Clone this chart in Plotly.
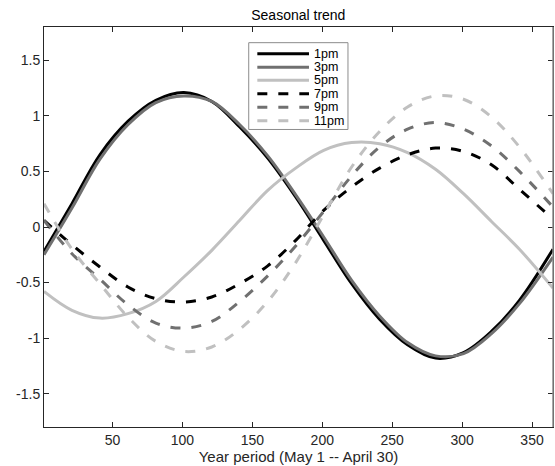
import plotly.graph_objects as go

# Day of the year period (May 1 -- April 30)
days = [1, 21, 41, 61, 81, 101, 121, 141, 161, 181, 201, 221, 241, 261, 281, 301, 321, 341, 365]

pm1 = [-0.22, 0.21, 0.65, 0.95, 1.14, 1.21, 1.13, 0.90, 0.62, 0.27, -0.12, -0.51, -0.83, -1.06, -1.18, -1.13, -0.94, -0.66, -0.20]
pm3 = [-0.25, 0.17, 0.61, 0.92, 1.12, 1.18, 1.13, 0.92, 0.64, 0.29, -0.09, -0.48, -0.80, -1.04, -1.16, -1.14, -0.96, -0.69, -0.27]
pm5 = [-0.58, -0.75, -0.82, -0.78, -0.67, -0.45, -0.21, 0.06, 0.33, 0.53, 0.69, 0.76, 0.75, 0.67, 0.52, 0.30, 0.05, -0.20, -0.55]
pm7 = [0.06, -0.16, -0.36, -0.54, -0.645, -0.675, -0.63, -0.51, -0.35, -0.12, 0.15, 0.36, 0.53, 0.65, 0.71, 0.68, 0.56, 0.34, 0.07]
pm9 = [0.06, -0.24, -0.47, -0.70, -0.865, -0.91, -0.85, -0.67, -0.44, -0.17, 0.14, 0.46, 0.72, 0.88, 0.94, 0.88, 0.73, 0.50, 0.18]
pm11 = [0.21, -0.20, -0.51, -0.81, -1.03, -1.12, -1.08, -0.92, -0.67, -0.32, 0.11, 0.54, 0.86, 1.08, 1.18, 1.15, 0.99, 0.72, 0.30]

names = ["1pm", "3pm", "5pm", "7pm", "9pm", "11pm"]
series = [pm1, pm3, pm5, pm7, pm9, pm11]
colors = ["#000000", "#707070", "#c0c0c0", "#000000", "#707070", "#c0c0c0"]
dashes = ["solid", "solid", "solid", "10px,11px", "10px,11px", "10px,11px"]

xticks = [50, 100, 150, 200, 250, 300, 350]
yticks = [-1.5, -1, -0.5, 0, 0.5, 1, 1.5]
yticklabels = ["-1.5", "-1", "-0.5", "0", "0.5", "1", "1.5"]

fig = go.Figure()
for n, s, c, d in zip(names, series, colors, dashes):
    fig.add_trace(go.Scatter(
        x=days, y=s, name=n, mode="lines", showlegend=False,
        line=dict(color=c, width=3, dash=d, shape="spline", smoothing=1.0),
    ))

axis_color = "#262626"
fig.update_layout(
    width=555, height=466,
    margin=dict(l=44, r=2, t=27, b=39),
    paper_bgcolor="white", plot_bgcolor="white",
    font=dict(family="Liberation Sans, Arial, sans-serif", size=14, color=axis_color),
    title=dict(text="Seasonal trend", x=0.5375, xanchor="center", y=0.968, yanchor="middle",
               font=dict(size=14, color="#000000")),
    showlegend=False,
    xaxis=dict(
        range=[1, 365], tickvals=xticks, ticks="inside", ticklen=5, tickcolor=axis_color,
        showline=True, linecolor=axis_color, linewidth=1, mirror="ticks",
        showgrid=False, zeroline=False,
        title=dict(text="Year period (May 1 -- April 30)", standoff=2, font=dict(size=15)),
        tickfont=dict(size=14),
    ),
    yaxis=dict(
        range=[-1.8, 1.8], tickvals=yticks, ticktext=yticklabels, ticks="inside", ticklen=5,
        tickcolor=axis_color, showline=True, linecolor=axis_color, linewidth=1, mirror="ticks",
        showgrid=False, zeroline=False, tickfont=dict(size=14),
    ),
)

# right border appears grey in the reference
fig.add_shape(type="line", xref="paper", yref="paper", x0=1, x1=1, y0=0, y1=1,
              line=dict(color="#8c8c8c", width=1.5))

# compact MATLAB-style legend drawn in paper coordinates
box_x0, box_x1, box_y0, box_y1 = 0.4022, 0.5972, 0.7438, 0.9608
fig.add_shape(type="rect", xref="paper", yref="paper", x0=box_x0, x1=box_x1, y0=box_y0, y1=box_y1,
              line=dict(color="#8c8c8c", width=1), fillcolor="white", layer="above")
row_y = [0.9333, 0.8993, 0.8668, 0.8333, 0.7993, 0.7658]
for n, c, d, yy in zip(names, colors, dashes, row_y):
    fig.add_shape(type="line", xref="paper", yref="paper", x0=0.4191, x1=0.5206, y0=yy, y1=yy,
                  line=dict(color=c, width=3, dash=d), layer="above")
    fig.add_annotation(text=n, xref="paper", yref="paper", x=0.5265, y=yy,
                       xanchor="left", yanchor="middle", showarrow=False,
                       font=dict(size=12.5, color="#000000"))

fig.write_html("out.html", config={"displayModeBar": False},
               post_script="document.body.style.margin='0';document.body.style.overflow='hidden';")
